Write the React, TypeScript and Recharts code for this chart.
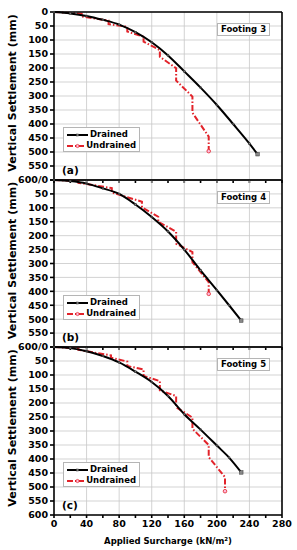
import React from 'react';
import { LineChart, Line, XAxis, YAxis, CartesianGrid, ReferenceLine, Legend } from 'recharts';

// Footing 3 (a)
const DRAINED_LOAD_A = [0, 20, 40, 60, 80, 100, 120, 140, 160, 180, 200, 220, 240, 250];
const DRAINED_SETTLE_A = [0, 5, 14, 28, 45, 72, 108, 155, 212, 270, 332, 400, 470, 508];
const UNDRAINED_LOAD_A = [0, 34, 34, 67, 67, 90, 90, 110, 110, 130, 130, 150, 150, 170, 170, 190, 190];
const UNDRAINED_SETTLE_A = [0, 6, 16, 31, 43, 53, 70, 88, 106, 136, 160, 201, 245, 302, 360, 445, 497];

// Footing 4 (b)
const DRAINED_LOAD_B = [0, 20, 40, 60, 80, 100, 120, 140, 160, 180, 200, 215, 230];
const DRAINED_SETTLE_B = [0, 4, 13, 30, 50, 88, 133, 185, 250, 325, 396, 450, 505];
const UNDRAINED_LOAD_B = [0, 30, 30, 71, 71, 108, 108, 128, 128, 150, 150, 170, 170, 190, 190];
const UNDRAINED_SETTLE_B = [0, 4, 10, 29, 45, 78, 98, 132, 150, 186, 229, 259, 295, 367, 409];

// Footing 5 (c)
const DRAINED_LOAD_C = [0, 20, 40, 60, 80, 100, 120, 140, 160, 180, 200, 215, 230];
const DRAINED_SETTLE_C = [0, 4, 15, 32, 55, 88, 125, 175, 240, 295, 352, 395, 448];
const UNDRAINED_LOAD_C = [0, 30, 30, 70, 70, 90, 90, 110, 110, 130, 130, 150, 150, 170, 170, 190, 190, 210, 210];
const UNDRAINED_SETTLE_C = [0, 5, 10, 30, 38, 52, 68, 80, 103, 122, 155, 175, 215, 252, 292, 350, 393, 465, 515];

const X_TICKS = [0, 20, 40, 60, 80, 100, 120, 140, 160, 180, 200, 220, 240, 260, 280];
const X_GRID = [40, 80, 120, 160, 200, 240];
const Y_TICKS = [0, 50, 100, 150, 200, 250, 300, 350, 400, 450, 500, 550, 600];

const RED = '#e2232a';
const DASH = '6 2 1.5 2';

const zip = (xs: number[], ys: number[]) => xs.map((x, i) => ({ x, y: ys[i] }));

const LegendBox = () => (
  <div
    style={{
      border: '1px solid #b5b5b5',
      background: '#fff',
      width: 77,
      height: 25,
      boxSizing: 'border-box',
      padding: '1px 3px',
      fontSize: 8.5,
      fontWeight: 'bold',
      lineHeight: '11px',
      color: '#000',
    }}
  >
    <div style={{ display: 'flex', alignItems: 'center' }}>
      <svg width={21} height={8}>
        <line x1={0} y1={4} x2={21} y2={4} stroke="#000" strokeWidth={2} />
        <rect x={9.5} y={3} width={2} height={2} fill="#888" stroke="#333" strokeWidth={0.5} />
      </svg>
      <span style={{ marginLeft: 2 }}>Drained</span>
    </div>
    <div style={{ display: 'flex', alignItems: 'center' }}>
      <svg width={21} height={8}>
        <line x1={0} y1={4} x2={21} y2={4} stroke={RED} strokeWidth={2} strokeDasharray={DASH} />
        <circle cx={10.5} cy={4} r={1.6} fill="#fbd" stroke={RED} strokeWidth={0.7} />
      </svg>
      <span style={{ marginLeft: 2 }}>Undrained</span>
    </div>
  </div>
);

const YTitle = (props: any) => {
  const vb = props.viewBox;
  const cx = vb.x + 12;
  const cy = vb.y + vb.height / 2 - 3;
  return (
    <text
      x={cx}
      y={cy}
      transform={`rotate(-90, ${cx}, ${cy})`}
      textAnchor="middle"
      dominantBaseline="central"
      fontSize={11}
      fontWeight="bold"
      fill="#000"
    >
      Vertical Settlement (mm)
    </text>
  );
};

interface PanelProps {
  top: number;
  height: number;
  drained: { x: number; y: number }[];
  undrained: { x: number; y: number }[];
  footing: string;
  tag: string;
  first?: boolean;
  last?: boolean;
}

const Panel: React.FC<PanelProps> = ({ top, height, drained, undrained, footing, tag, first, last }) => {
  const axisH = last ? 35 : 4;
  const chartH = 10 + height + axisH;
  const tickStyle = { fontSize: 9.5, fontWeight: 'bold', fill: '#000' };

  const yFormat = (v: number) => {
    if (v === 600) return last ? '600' : '600/0';
    if (v === 0 && !first) return '';
    return String(v);
  };

  return (
    <div style={{ position: 'absolute', left: 0, top: top - 10, width: 297, height: chartH }}>
      <LineChart width={297} height={chartH} margin={{ top: 10, right: 15, bottom: 0, left: 0 }}>
        <CartesianGrid vertical={false} stroke="#c8c8c8" strokeWidth={0.8} />
        {X_GRID.map((v) => (
          <ReferenceLine key={v} x={v} stroke="#c8c8c8" strokeWidth={0.8} />
        ))}
        <XAxis
          type="number"
          dataKey="x"
          domain={[0, 280]}
          ticks={X_TICKS}
          interval={0}
          height={axisH}
          tickSize={3}
          stroke="#000"
          strokeWidth={1.6}
          tick={last ? tickStyle : () => null}
          tickFormatter={(v: number) => (v % 40 === 0 ? String(v) : '')}
          label={
            last
              ? {
                  value: 'Applied Surcharge (kN/m²)',
                  position: 'insideBottom',
                  offset: 6,
                  style: { fontSize: 8.5, fontWeight: 'bold', fill: '#000' },
                }
              : undefined
          }
        />
        <XAxis
          xAxisId="top"
          orientation="top"
          mirror
          type="number"
          dataKey="x"
          domain={[0, 280]}
          ticks={X_TICKS}
          interval={0}
          tickSize={3}
          stroke="#000"
          strokeWidth={1.6}
          tick={() => null}
        />
        <YAxis
          type="number"
          domain={[0, 600]}
          reversed
          ticks={Y_TICKS}
          interval={0}
          width={54}
          tickSize={4}
          stroke="#000"
          strokeWidth={1.6}
          tick={tickStyle}
          tickFormatter={yFormat}
          label={{ content: YTitle }}
        />
        <YAxis
          yAxisId="right"
          orientation="right"
          mirror
          type="number"
          domain={[0, 600]}
          reversed
          ticks={Y_TICKS}
          interval={0}
          tickSize={3}
          stroke="#000"
          strokeWidth={1.6}
          tick={() => null}
        />
        <Legend
          layout="vertical"
          align="center"
          verticalAlign="middle"
          wrapperStyle={{ left: 63, top: 125, width: 77, height: 25 }}
          content={() => <LegendBox />}
        />
        <Line
          data={undrained}
          dataKey="y"
          type="linear"
          stroke={RED}
          strokeWidth={2}
          strokeDasharray={DASH}
          isAnimationActive={false}
          dot={(p: any) =>
            p.index === undrained.length - 1 ? (
              <circle key={p.index} cx={p.cx} cy={p.cy} r={1.8} fill="#fbd" stroke={RED} strokeWidth={0.8} />
            ) : (
              <g key={p.index} />
            )
          }
        />
        <Line
          data={drained}
          dataKey="y"
          type="monotone"
          stroke="#000"
          strokeWidth={2}
          isAnimationActive={false}
          dot={(p: any) => {
            const s = p.index === drained.length - 1 ? 3.5 : 1.6;
            return (
              <rect
                key={p.index}
                x={p.cx - s / 2}
                y={p.cy - s / 2}
                width={s}
                height={s}
                fill="#888"
                stroke="#333"
                strokeWidth={0.5}
              />
            );
          }}
        />
      </LineChart>
      <div
        style={{
          position: 'absolute',
          left: 217,
          top: 20.5,
          width: 53,
          height: 13,
          boxSizing: 'border-box',
          border: '1px solid #b5b5b5',
          background: '#fff',
          fontSize: 8.5,
          fontWeight: 'bold',
          lineHeight: '11px',
          textAlign: 'center',
          color: '#000',
        }}
      >
        {footing}
      </div>
      <div
        style={{
          position: 'absolute',
          left: 62,
          top: 10 + height - 16,
          fontSize: 10.5,
          fontWeight: 'bold',
          lineHeight: '12px',
          color: '#000',
        }}
      >
        {tag}
      </div>
    </div>
  );
};

export default function App() {
  return (
    <div
      style={{
        position: 'absolute',
        left: 0,
        top: 0,
        width: 297,
        height: 550,
        background: '#fff',
        fontFamily: '"DejaVu Sans", Verdana, sans-serif',
      }}
    >
      <Panel
        top={12}
        height={168}
        drained={zip(DRAINED_LOAD_A, DRAINED_SETTLE_A)}
        undrained={zip(UNDRAINED_LOAD_A, UNDRAINED_SETTLE_A)}
        footing="Footing 3"
        tag="(a)"
        first
      />
      <Panel
        top={180}
        height={167}
        drained={zip(DRAINED_LOAD_B, DRAINED_SETTLE_B)}
        undrained={zip(UNDRAINED_LOAD_B, UNDRAINED_SETTLE_B)}
        footing="Footing 4"
        tag="(b)"
      />
      <Panel
        top={347}
        height={168}
        drained={zip(DRAINED_LOAD_C, DRAINED_SETTLE_C)}
        undrained={zip(UNDRAINED_LOAD_C, UNDRAINED_SETTLE_C)}
        footing="Footing 5"
        tag="(c)"
        last
      />
    </div>
  );
}
